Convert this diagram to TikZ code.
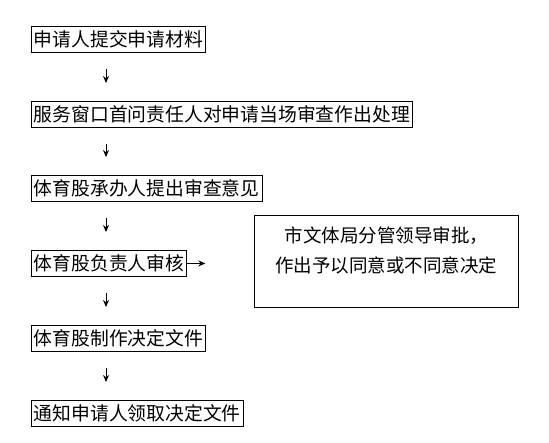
\documentclass[tikz,border=0pt]{standalone}
\usepackage{fontspec}
\setmainfont{Noto Sans CJK SC}
\usetikzlibrary{
  positioning,
  arrows.meta
}
\newcommand{\stepfont}{\fontsize{18.8}{24}\selectfont}

\begin{document}
\begin{tikzpicture}[
  x=1pt, y=-1pt,
  stepbox/.style={draw, line width=0.9pt, anchor=north west, minimum height=26pt,
                  inner xsep=2.5pt, inner ysep=0pt, font=\stepfont},
  flow/.style={-{Stealth[length=7pt,width=6pt]}, line width=0.9pt},
  down/.style={flow, shorten <=16pt, shorten >=18pt},
]
  \useasboundingbox (0,0) rectangle (549,442);

  \node[stepbox] (apply) at (31,26) {申请人提交申请材料};
  \node[stepbox] (window) at (31,101) {服务窗口首问责任人对申请当场审查作出处理};
  \node[stepbox] (handler) at (31,175) {体育股承办人提出审查意见};
  \node[stepbox] (chief) at (31,250) {体育股负责人审核};
  \node[stepbox] (decide) at (31,325) {体育股制作决定文件};
  \node[stepbox] (notify) at (31,400) {通知申请人领取决定文件};

  % leader's approval box
  \node[draw, line width=0.9pt, anchor=north west, minimum width=264pt, minimum height=92pt]
    (approve) at (254,215) {};
  \node[align=center, font=\fontsize{18.5}{30}\selectfont] (approvetext)
    at ([yshift=-35pt]approve.north) {市文体局分管领导审批，\\作出予以同意或不同意决定};

  \draw[down] ([xshift=75pt]apply.south west) -- ([xshift=75pt]window.north west);
  \draw[down] ([xshift=75pt]window.south west) -- ([xshift=75pt]handler.north west);
  \draw[down] ([xshift=75pt]handler.south west) -- ([xshift=75pt]chief.north west);
  \draw[down] ([xshift=75pt]chief.south west) -- ([xshift=75pt]decide.north west);
  \draw[down] ([xshift=75pt]decide.south west) -- ([xshift=75pt]notify.north west);

  \coordinate (chiefout) at ([xshift=18pt]chief.east);
  \draw[flow] (chief.east) -- (chiefout);
\end{tikzpicture}
\end{document}
